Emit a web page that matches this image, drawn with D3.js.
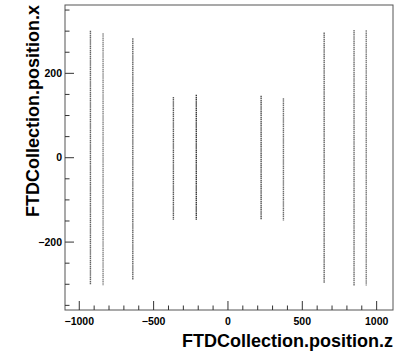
<!DOCTYPE html>
<html>
<head>
<meta charset="utf-8">
<script src="https://cdn.jsdelivr.net/npm/d3@7"></script>
<style>
  body { margin: 0; background: #fff; }
  text { font-family: "Liberation Sans", Arial, sans-serif; font-weight: bold; }
</style>
</head>
<body>
<div id="chart"></div>
<script>
// FTD disk hits: z position and x extent of each disk
const diskZ = [-925, -840, -640, -367, -213, 223, 373, 647, 848, 930];
const diskXMin = [-301, -303, -290, -147, -147, -147, -149, -297, -303, -303];
const diskXMax = [301, 295, 283, 144, 149, 147, 141, 297, 303, 302];
const diskShade = [0.7, 0.55, 0.7, 0.75, 0.9, 0.8, 0.65, 0.7, 0.65, 0.6];

const zTicks = [-1000, -500, 0, 500, 1000];
const xTicks = [-200, 0, 200];

const svgWidth = 409;
const svgHeight = 352;
const margin = { top: 5, right: 16, bottom: 42, left: 65 };
const width = svgWidth - margin.left - margin.right;
const height = svgHeight - margin.top - margin.bottom;

const svg = d3.select('#chart')
    .append('svg')
    .attr('width', svgWidth)
    .attr('height', svgHeight);

const g = svg.append('g')
    .attr('transform', `translate(${margin.left},${margin.top})`);

const xScale = d3.scaleLinear().domain([-1096, 1110]).range([0, width]);
const yScale = d3.scaleLinear().domain([-361, 362]).range([height, 0]);

const disks = diskZ.map((z, i) => ({ z, lo: diskXMin[i], hi: diskXMax[i], shade: diskShade[i] }));

// hits as grainy dotted columns
g.selectAll('line.disk')
    .data(disks)
    .enter()
    .append('line')
    .attr('class', 'disk')
    .attr('x1', d => xScale(d.z))
    .attr('x2', d => xScale(d.z))
    .attr('y1', d => yScale(d.hi))
    .attr('y2', d => yScale(d.lo))
    .attr('stroke', '#222')
    .attr('stroke-width', 1.4)
    .attr('stroke-dasharray', '1.5,0.6')
    .attr('opacity', d => d.shade);

// frame
g.append('rect')
    .attr('width', width)
    .attr('height', height)
    .attr('fill', 'none')
    .attr('stroke', '#555')
    .attr('stroke-width', 1);

// bottom axis: major 500, minor 100
const zMinor = d3.range(-1000, 1001, 100);
g.append('g')
    .selectAll('line')
    .data(zMinor)
    .enter()
    .append('line')
    .attr('x1', d => xScale(d))
    .attr('x2', d => xScale(d))
    .attr('y1', height)
    .attr('y2', d => height - (d % 500 === 0 ? 9 : 4.5))
    .attr('stroke', '#333');

g.append('g')
    .selectAll('text')
    .data(zTicks)
    .enter()
    .append('text')
    .attr('x', d => xScale(d))
    .attr('y', height + 15)
    .attr('text-anchor', 'middle')
    .style('font-size', '10.5px')
    .text(d => d3.format('')(d).replace('-', '\u2212'));

// left axis: major 200, minor 50
const xMinor = d3.range(-350, 351, 50);
g.append('g')
    .selectAll('line')
    .data(xMinor)
    .enter()
    .append('line')
    .attr('x1', 0)
    .attr('x2', d => (d % 200 === 0 ? 9 : 4.5))
    .attr('y1', d => yScale(d))
    .attr('y2', d => yScale(d))
    .attr('stroke', '#333');

g.append('g')
    .selectAll('text')
    .data(xTicks)
    .enter()
    .append('text')
    .attr('x', -3)
    .attr('y', d => yScale(d))
    .attr('dy', '0.35em')
    .attr('text-anchor', 'end')
    .style('font-size', '10.5px')
    .text(d => d3.format('')(d).replace('-', '\u2212'));

// axis titles
svg.append('text')
    .attr('x', margin.left + width)
    .attr('y', 347)
    .attr('text-anchor', 'end')
    .style('font-size', '18px')
    .text('FTDCollection.position.z');

svg.append('text')
    .attr('transform', `translate(39,${margin.top}) rotate(-90)`)
    .attr('text-anchor', 'end')
    .style('font-size', '18px')
    .text('FTDCollection.position.x');
</script>
</body>
</html>
